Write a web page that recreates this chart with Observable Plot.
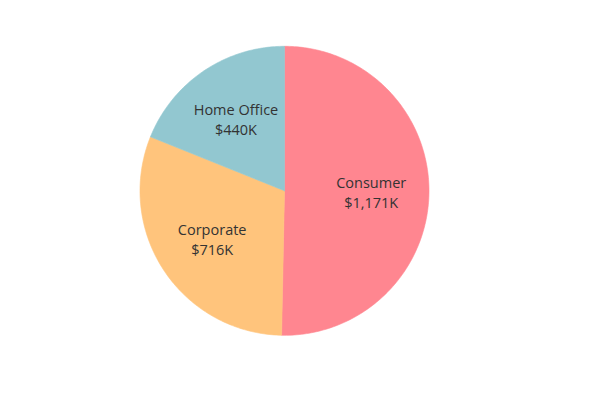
<!DOCTYPE html>
<html>
<head>
<meta charset="utf-8">
<script src="https://cdn.jsdelivr.net/npm/d3@7"></script>
<script src="https://cdn.jsdelivr.net/npm/@observablehq/plot@0.6"></script>
<style>
  html, body { margin: 0; padding: 0; background: #ffffff; }
</style>
</head>
<body>
<div id="chart"></div>
<script>
const segments = ["Consumer", "Corporate", "Home Office"];
const sales = [1171, 716, 440];          // $K
const valueLabels = ["$1,171K", "$716K", "$440K"];
const colors = ["#FF8690", "#FFC47C", "#92C7D0"];

const rows = segments.map((s, i) => ({segment: s, value: sales[i], label: valueLabels[i]}));

// angles via d3.pie (clockwise from 12 o'clock, in data order)
const arcs = d3.pie().sort(null).value(d => d.value)(rows);

// polygon outline for each slice, in unit-circle coordinates (y up)
const steps = 360;
const outline = [];
for (const a of arcs) {
  const seg = a.data.segment;
  outline.push({segment: seg, x: 0, y: 0});
  const n = Math.max(2, Math.ceil((a.endAngle - a.startAngle) / (2 * Math.PI) * steps));
  for (let k = 0; k <= n; k++) {
    const t = a.startAngle + (a.endAngle - a.startAngle) * k / n;
    outline.push({segment: seg, x: Math.sin(t), y: Math.cos(t)});
  }
  outline.push({segment: seg, x: 0, y: 0});
}

// label anchor at mid-angle
const labelR = 0.6;
const labels = arcs.map(a => {
  const m = (a.startAngle + a.endAngle) / 2;
  return {segment: a.data.segment, text: a.data.segment + "\n" + a.data.label,
          x: labelR * Math.sin(m), y: labelR * Math.cos(m)};
});

const chart = Plot.plot({
  width: 594,
  height: 397,
  marginLeft: 139.5,
  marginRight: 165.5,
  marginTop: 45.8,
  marginBottom: 62.2,
  x: {domain: [-1, 1], axis: null},
  y: {domain: [-1, 1], axis: null},
  color: {domain: segments, range: colors},
  style: {background: "#ffffff", fontFamily: "'Open Sans', sans-serif"},
  marks: [
    Plot.line(outline, {x: "x", y: "y", z: "segment", fill: "segment", stroke: "segment",
      strokeWidth: 0.6, strokeLinejoin: "round"}),
    Plot.text(labels, {x: "x", y: "y", text: "text", fill: "#333333",
      fontSize: 14.5, lineHeight: 1.36, textAnchor: "middle"})
  ]
});
document.getElementById("chart").appendChild(chart);
</script>
</body>
</html>
